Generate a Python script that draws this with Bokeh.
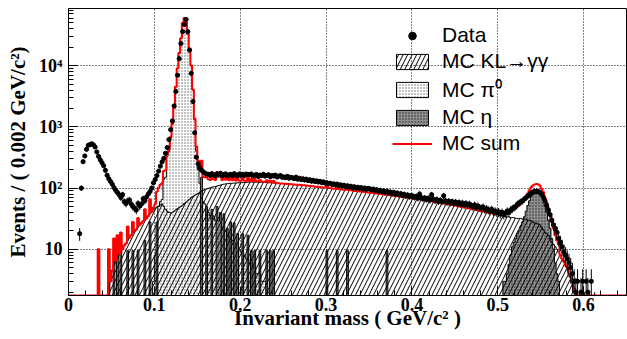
import numpy as np
from bokeh.plotting import figure
from bokeh.models import FixedTicker, CustomJSTickFormatter, Legend, LegendItem, Range1d
from bokeh.embed import file_html
from bokeh.resources import INLINE

BIN = 0.002  # GeV/c^2 per bin

# ---- data (counts per bin), bin i centred at 0.001 + 0.002*i ----
data_counts = [
    0, 0, 0, 0, 0, 0, 18, 100, 270, 335,
    430, 500, 515, 530, 510, 470, 390, 330, 290, 260,
    232, 195, 162, 142, 128, 116, 102, 92, 85, 78,
    70, 78, 60, 56, 62, 64, 55, 50, 47, 44,
    56, 51, 55, 67, 62, 72, 80, 88, 100, 122,
    138, 160, 190, 228, 268, 305, 370, 460, 620, 900,
    1250, 2200, 3800, 7000, 13000, 23000, 36000, 47000, 57000, 36000,
    18000, 7500, 2600, 800, 320, 250, 215, 195, 185, 175,
    170, 168, 162, 172, 165, 158, 170, 163, 175, 160,
    166, 171, 158, 164, 168, 160, 172, 165, 159, 170,
    163, 168, 161, 170, 166, 165, 170, 158, 162, 167,
    155, 163, 160, 168, 157, 161, 165, 154, 160, 158,
    163, 152, 157, 160, 150, 152, 148, 156, 145, 150,
    147, 143, 151, 140, 145, 138, 142, 136, 140, 133,
    137, 130, 134, 128, 131, 126, 129, 123, 126, 121,
    122, 118, 120, 115, 117, 113, 116, 110, 113, 108,
    111, 106, 109, 104, 107, 102, 105, 101, 103, 99,
    102, 97, 100, 96, 99, 97, 94, 96, 92, 94,
    90, 92, 88, 90, 86, 89, 84, 86, 82, 85,
    80, 83, 78, 81, 77, 79, 75, 77, 73, 75,
    74, 71, 73, 69, 80, 70, 67, 69, 66, 68,
    64, 78, 66, 63, 65, 61, 63, 60, 75, 62,
    59, 61, 58, 60, 57, 59, 56, 58, 55, 57,
    54, 56, 53, 55, 52, 50, 53, 49, 51, 48,
    47, 49, 45, 46, 44, 43, 45, 41, 42, 40,
    41, 38, 40, 37, 39, 42, 40, 44, 46, 48,
    50, 55, 57, 60, 62, 66, 70, 74, 78, 83,
    86, 88, 89, 88, 85, 80, 72, 62, 52, 44,
    37, 30, 25, 22, 19, 15, 13, 11, 9, 8,
    7, 6, 5, 4, 3, 2, 3, 1, 2, 3,
    1, 3, 2, 1, 3, 0, 1, 0, 0, 0,
    0, 0, 0, 0, 0, 0, 0, 0, 0, 0,
    0, 0, 0, 0, 0,
]

# ---- MC KL -> gamma gamma ----
kl_mc = [
    0, 0, 0, 0, 0, 0, 0, 0, 0, 0,
    0, 0, 0, 0, 0, 0, 0, 0, 0, 0,
    0, 0, 0, 0, 3, 4.5, 5.5, 6.5, 7.5, 8.5,
    9.3, 10, 11.5, 12.5, 14, 15.5, 17, 18.5, 20, 21,
    23, 25, 27, 29, 31, 32, 35, 38, 41, 45,
    47, 49, 51, 53, 55, 50, 45, 42, 40, 39,
    40, 42, 44, 46, 48, 50, 53, 56, 59, 62,
    66, 70, 73, 76, 79, 82, 86, 89, 92, 95,
    97, 99, 101, 103, 105, 106, 108, 110, 112, 114,
    116, 117, 118, 119, 120, 120, 121, 121, 122, 122,
    123, 123, 124, 124, 125, 125, 126, 125, 126, 125,
    125, 124, 125, 124, 124, 123, 123, 122, 122, 121,
    121, 120, 120, 119, 119, 118, 118, 117, 117, 116,
    115, 115, 114, 113, 113, 112, 111, 111, 110, 109,
    108, 108, 107, 106, 105, 105, 104, 103, 102, 102,
    101, 100, 100, 99, 98, 98, 97, 96, 96, 95,
    94, 94, 93, 92, 92, 91, 90, 90, 89, 88,
    88, 87, 86, 86, 85, 84, 84, 83, 82, 82,
    81, 80, 80, 79, 78, 78, 77, 76, 76, 75,
    74, 74, 73, 72, 72, 71, 70, 70, 69, 68,
    68, 67, 67, 66, 65, 65, 64, 63, 63, 62,
    61, 61, 60, 59, 59, 58, 57, 57, 56, 55,
    55, 54, 53, 53, 52, 52, 51, 50, 50, 49,
    48, 48, 47, 47, 46, 45, 45, 44, 43, 43,
    42, 42, 41, 40, 40, 39, 39, 38, 38, 37,
    37, 36, 36, 35, 35, 34, 34, 33, 33, 33,
    32, 32, 32, 32, 31, 31, 31, 30, 30, 29,
    28, 27, 27, 26, 25, 23, 21, 19, 18, 17,
    15, 13, 12, 11, 10, 9, 8, 7, 6.4, 5.5,
    5, 4, 3.5, 2.8, 2.3, 1.9, 0, 0, 0, 0,
    0, 0, 0, 0, 0, 0, 0, 0, 0, 0,
    0, 0, 0, 0, 0, 0, 0, 0, 0, 0,
    0, 0, 0, 0, 0,
]

# ---- MC pi0 (first bin centred at 0.099) ----
pi0_first = 0.099
pi0_mc = [
    3, 8, 10, 50, 60, 65, 140, 150, 330, 400,
    650, 1100, 2000, 4500, 9000, 16000, 28000, 50000, 60000, 52000,
    33000, 19000, 10000, 4000, 1300, 400, 200, 120, 40, 60,
    55, 30, 40, 35, 30, 35, 30, 25, 28, 25,
    22, 20, 20, 18, 16, 15, 14, 13, 12, 11,
    10, 9, 8, 8, 7, 7, 6, 6, 5, 5,
    4, 4, 4, 3, 3, 3, 2, 2, 2, 2,
    1, 1,
]

# ---- MC eta: isolated low-statistics bins + the eta peak ----
eta_spike_x = [0.035, 0.047, 0.053, 0.057, 0.061, 0.069, 0.075, 0.081, 0.089, 0.095,
               0.103, 0.155, 0.161, 0.167, 0.173, 0.175, 0.177, 0.181, 0.185, 0.189,
               0.193, 0.197, 0.203, 0.209, 0.213, 0.217, 0.223, 0.231, 0.235, 0.239,
               0.301, 0.313, 0.325, 0.371]
eta_spike_y = [10, 10, 9.5, 9.5, 9.5, 9.5, 9.5, 9.5, 14, 28,
               28, 150, 50, 45, 50, 29, 40, 38, 22, 28,
               27, 18, 18, 17, 9.5, 9.5, 9.5, 9.5, 9.5, 9.5,
               9.5, 9.5, 9.5, 9.5]
eta_peak_first = 0.507
eta_peak = [3, 3, 4, 5.7, 8, 11, 13, 15, 18, 20,
            24, 28, 34, 42, 52, 62, 74, 82, 88, 90,
            90, 85, 75, 65, 50, 40, 30, 22, 15, 10,
            6, 4, 3]

legend_labels = ["Data", "MC KL\u2192\u03b3\u03b3", "MC \u03c0\u2070", "MC \u03b7", "MC sum"]

# ---------------------------------------------------------------
n = len(data_counts)
edges = np.arange(n + 1) * BIN
centers = edges[:-1] + BIN / 2


def idx(x):
    return int(round((x - BIN / 2) / BIN))


def full(vals, first):
    a = np.zeros(n)
    i0 = idx(first)
    a[i0:i0 + len(vals)] = vals
    return a


data = np.array(data_counts, dtype=float)
kl = np.zeros(n); kl[:len(kl_mc)] = kl_mc
pi0 = full(pi0_mc, pi0_first)
eta = full(eta_peak, eta_peak_first)
for x, v in zip(eta_spike_x, eta_spike_y):
    eta[idx(x)] = v
mc_sum = kl + pi0 + eta

Y0, Y1 = 1.76, 86000.0
FLOOR = 0.5


def step_xy(v, floor):
    xs = np.repeat(edges, 2)[1:-1]
    ys = np.repeat(np.where(v > 0, v, floor), 2)
    return xs, ys


def patch_xy(v):
    xs, ys = step_xy(v, FLOOR)
    return (np.concatenate([[edges[0]], xs, [edges[-1]]]),
            np.concatenate([[FLOOR], ys, [FLOOR]]))


p = figure(width=627, height=339, x_range=Range1d(0, 0.65), y_range=Range1d(Y0, Y1),
           y_axis_type="log", output_backend="svg", toolbar_location=None,
           min_border_left=68, min_border_right=1, min_border_top=8, min_border_bottom=44)
p.background_fill_color = "white"
p.border_fill_color = "white"
p.outline_line_color = "black"
p.outline_line_width = 1

# grid
for g in (p.xgrid[0], p.ygrid[0]):
    g.grid_line_color = "black"
    g.grid_line_dash = "1 2"
    g.grid_line_width = 1

# MC histograms (drawn from the bottom, not stacked)
px, py = patch_xy(pi0)
r_pi0 = p.patch(px, py, fill_color="white", hatch_pattern="dot", hatch_color="#666666",
                hatch_scale=3, hatch_weight=1, line_color="black", line_width=1)
ex, ey = patch_xy(eta)
r_eta = p.patch(ex, ey, fill_color="#8f8f8f", hatch_pattern="dot", hatch_color="#2a2a2a",
                hatch_scale=3, hatch_weight=1, line_color="black", line_width=1)
kx, ky = patch_xy(kl)
r_kl = p.patch(kx, ky, fill_alpha=0, hatch_pattern="/", hatch_color="black",
               hatch_scale=9, hatch_weight=1, line_color="black", line_width=1)

sx, sy = step_xy(mc_sum, Y0)
r_sum = p.line(sx, sy, line_color="#ff0000", line_width=2)

# data with Poisson error bars
m = data > 0
xd, yd = centers[m], data[m]
p.segment(x0=xd, y0=np.maximum(yd - np.sqrt(yd), FLOOR), x1=xd, y1=yd + np.sqrt(yd),
          line_color="black", line_width=1)
r_data = p.scatter(xd, yd, size=4.2, marker="circle", fill_color="black", line_color="black")

# axes
p.xaxis.ticker = FixedTicker(ticks=[0, 0.1, 0.2, 0.3, 0.4, 0.5, 0.6],
                             minor_ticks=[round(0.02 * k, 3) for k in range(33)])
p.xaxis.formatter = CustomJSTickFormatter(code="return tick == 0 ? '0' : tick.toFixed(1);")
p.yaxis.ticker = FixedTicker(ticks=[10, 100, 1000, 10000],
                             minor_ticks=[m_ * 10 ** e for e in range(0, 5) for m_ in range(2, 10)])
p.yaxis.formatter = CustomJSTickFormatter(code="""
const e = Math.round(Math.log10(tick));
const sup = {2: '\u00b2', 3: '\u00b3', 4: '\u2074', 5: '\u2075'};
return e == 1 ? '10' : '10' + sup[e];
""")
p.xaxis.axis_label = "Invariant mass ( GeV/c\u00b2 )"
p.yaxis.axis_label = "Events / ( 0.002 GeV/c\u00b2)"
for ax in (p.xaxis[0], p.yaxis[0]):
    ax.axis_line_color = "black"
    ax.major_tick_line_color = "black"
    ax.minor_tick_line_color = "black"
    ax.major_tick_in = 9
    ax.major_tick_out = 0
    ax.minor_tick_in = 5
    ax.minor_tick_out = 0
    ax.major_label_text_font = "Liberation Serif"
    ax.major_label_text_font_style = "bold"
    ax.major_label_text_font_size = "18px"
    ax.major_label_text_color = "black"
    ax.axis_label_text_font = "Liberation Serif"
    ax.axis_label_text_font_style = "bold"
    ax.axis_label_text_font_size = "21px"
    ax.axis_label_text_color = "black"
p.xaxis.major_label_standoff = 2
p.xaxis.axis_label_standoff = -8
p.yaxis.major_label_standoff = 6
p.yaxis.axis_label_standoff = 6

legend = Legend(items=[
    LegendItem(label=legend_labels[0], renderers=[r_data]),
    LegendItem(label=legend_labels[1], renderers=[r_kl]),
    LegendItem(label=legend_labels[2], renderers=[r_pi0]),
    LegendItem(label=legend_labels[3], renderers=[r_eta]),
    LegendItem(label=legend_labels[4], renderers=[r_sum]),
], location=(324, 140))
legend.glyph_width = 40
legend.glyph_height = 19
legend.label_standoff = 10
legend.label_height = 19
legend.spacing = 2
legend.padding = 0
legend.margin = 0
legend.border_line_alpha = 0
legend.background_fill_alpha = 0
legend.label_text_font = "Liberation Sans"
legend.label_text_font_size = "21px"
legend.label_text_color = "black"
p.add_layout(legend)

open("out.html", "w").write(file_html(p, INLINE))
